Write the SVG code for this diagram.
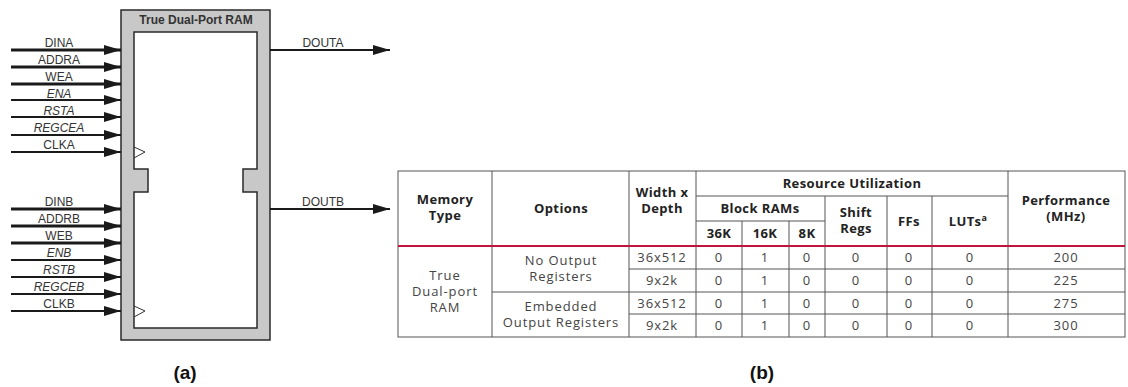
<svg xmlns="http://www.w3.org/2000/svg" width="1128" height="387" viewBox="0 0 1128 387">
<defs>
<marker id="ah" viewBox="0 0 17 10" refX="17" refY="5" markerWidth="17" markerHeight="10" markerUnits="userSpaceOnUse" orient="auto"><path d="M0,0 L17,5 L0,10 Z" fill="#1a1a1a"/></marker>
<style>
.sig{font-family:"Liberation Sans",Arial,sans-serif;font-size:12px;fill:#333;text-anchor:middle}
.it{font-style:italic}
.ln{stroke:#1a1a1a;stroke-width:2;fill:none}
.bus{stroke:#1a1a1a;stroke-width:3;fill:none}
.th{font-family:"Open Sans",sans-serif;font-size:13px;font-weight:bold;letter-spacing:0.4px;fill:#222;text-anchor:middle}
.td{font-family:"Open Sans",sans-serif;font-size:13px;letter-spacing:0.9px;fill:#444;text-anchor:middle}
.grid{stroke:#555;stroke-width:1;fill:none}
.cap{font-family:"Liberation Sans",Arial,sans-serif;font-size:19px;font-weight:bold;fill:#111;text-anchor:middle}
</style>
</defs>
<rect width="1128" height="387" fill="#fff"/>
<g id="ram">
<rect x="121" y="10" width="149" height="330" fill="#c8c8c8" stroke="#2a2a2a" stroke-width="1.5"/>
<path d="M134,32 H257 V169 H243 V192 H257 V328 H134 V192 H148 V169 H134 Z" fill="#fff" stroke="#2a2a2a" stroke-width="1.5"/>
<text x="196" y="24" style="font-family:'Liberation Sans',Arial,sans-serif;font-size:12px;font-weight:bold;fill:#333;text-anchor:middle">True Dual-Port RAM</text>
<path d="M134,147 L145,152 L134,158" fill="none" stroke="#333" stroke-width="1"/>
<path d="M134,306 L145,311 L134,317" fill="none" stroke="#333" stroke-width="1"/>
</g>
<g id="connectors">
<line class="bus" x1="11" y1="50" x2="121" y2="50" marker-end="url(#ah)"/>
<line class="bus" x1="11" y1="67" x2="121" y2="67" marker-end="url(#ah)"/>
<line class="bus" x1="11" y1="84" x2="121" y2="84" marker-end="url(#ah)"/>
<line class="ln" x1="11" y1="100" x2="121" y2="100" marker-end="url(#ah)"/>
<line class="ln" x1="11" y1="117" x2="121" y2="117" marker-end="url(#ah)"/>
<line class="ln" x1="11" y1="135" x2="121" y2="135" marker-end="url(#ah)"/>
<line class="ln" x1="11" y1="152" x2="121" y2="152" marker-end="url(#ah)"/>
<line class="bus" x1="11" y1="209" x2="121" y2="209" marker-end="url(#ah)"/>
<line class="bus" x1="11" y1="226" x2="121" y2="226" marker-end="url(#ah)"/>
<line class="bus" x1="11" y1="243" x2="121" y2="243" marker-end="url(#ah)"/>
<line class="ln" x1="11" y1="260" x2="121" y2="260" marker-end="url(#ah)"/>
<line class="ln" x1="11" y1="277" x2="121" y2="277" marker-end="url(#ah)"/>
<line class="ln" x1="11" y1="294" x2="121" y2="294" marker-end="url(#ah)"/>
<line class="ln" x1="11" y1="311" x2="121" y2="311" marker-end="url(#ah)"/>
<line class="ln" x1="270" y1="50" x2="390" y2="50" marker-end="url(#ah)"/>
<line class="ln" x1="270" y1="209" x2="390" y2="209" marker-end="url(#ah)"/>
</g>
<g id="labels">
<text class="sig" x="59" y="47">DINA</text>
<text class="sig" x="59" y="64">ADDRA</text>
<text class="sig" x="59" y="81">WEA</text>
<text class="sig it" x="59" y="98">ENA</text>
<text class="sig it" x="59" y="115">RSTA</text>
<text class="sig it" x="59" y="132">REGCEA</text>
<text class="sig" x="59" y="149">CLKA</text>
<text class="sig" x="59" y="206">DINB</text>
<text class="sig" x="59" y="223">ADDRB</text>
<text class="sig" x="59" y="240">WEB</text>
<text class="sig it" x="59" y="257">ENB</text>
<text class="sig it" x="59" y="274">RSTB</text>
<text class="sig it" x="59" y="291">REGCEB</text>
<text class="sig" x="59" y="308">CLKB</text>
<text class="sig" x="323" y="47">DOUTA</text>
<text class="sig" x="323" y="206">DOUTB</text>
</g>
<g id="table">
<rect class="grid" x="398" y="171" width="727" height="166"/>
<line class="grid" x1="492" y1="171" x2="492" y2="337"/>
<line class="grid" x1="629" y1="171" x2="629" y2="337"/>
<line class="grid" x1="696" y1="171" x2="696" y2="337"/>
<line class="grid" x1="1008" y1="171" x2="1008" y2="337"/>
<line class="grid" x1="696" y1="196" x2="1008" y2="196"/>
<line class="grid" x1="696" y1="221" x2="825" y2="221"/>
<line class="grid" x1="742" y1="221" x2="742" y2="337"/>
<line class="grid" x1="789" y1="221" x2="789" y2="337"/>
<line class="grid" x1="825" y1="196" x2="825" y2="337"/>
<line class="grid" x1="887" y1="196" x2="887" y2="337"/>
<line class="grid" x1="932" y1="196" x2="932" y2="337"/>
<line class="grid" x1="629" y1="269" x2="1125" y2="269"/>
<line class="grid" x1="492" y1="292" x2="1125" y2="292"/>
<line class="grid" x1="629" y1="314" x2="1125" y2="314"/>
<line x1="398" y1="246" x2="1125" y2="246" stroke="#c0143c" stroke-width="2"/>
<text class="th" x="445" y="204">Memory</text>
<text class="th" x="445" y="220">Type</text>
<text class="th" x="561" y="213">Options</text>
<text class="th" x="662" y="197">Width x</text>
<text class="th" x="662" y="213">Depth</text>
<text class="th" x="852" y="188">Resource Utilization</text>
<text class="th" x="760" y="213">Block RAMs</text>
<text class="th" x="719" y="238">36K</text>
<text class="th" x="765" y="238">16K</text>
<text class="th" x="807" y="238">8K</text>
<text class="th" x="856" y="217">Shift</text>
<text class="th" x="856" y="233">Regs</text>
<text class="th" x="909" y="226">FFs</text>
<text class="th" x="968" y="226">LUTs<tspan font-size="9" dy="-5">a</tspan></text>
<text class="th" x="1066" y="205">Performance</text>
<text class="th" x="1066" y="221">(MHz)</text>
<text class="td" x="445" y="280">True</text>
<text class="td" x="445" y="296">Dual-port</text>
<text class="td" x="445" y="312">RAM</text>
<text class="td" x="561" y="265">No Output</text>
<text class="td" x="561" y="281">Registers</text>
<text class="td" x="561" y="311">Embedded</text>
<text class="td" x="561" y="327">Output Registers</text>
<g id="rows">
<text class="td" x="662" y="262">36x512</text><text class="td" x="719" y="262">0</text><text class="td" x="765" y="262">1</text><text class="td" x="807" y="262">0</text><text class="td" x="856" y="262">0</text><text class="td" x="909" y="262">0</text><text class="td" x="970" y="262">0</text><text class="td" x="1066" y="262">200</text>
<text class="td" x="662" y="285">9x2k</text><text class="td" x="719" y="285">0</text><text class="td" x="765" y="285">1</text><text class="td" x="807" y="285">0</text><text class="td" x="856" y="285">0</text><text class="td" x="909" y="285">0</text><text class="td" x="970" y="285">0</text><text class="td" x="1066" y="285">225</text>
<text class="td" x="662" y="308">36x512</text><text class="td" x="719" y="308">0</text><text class="td" x="765" y="308">1</text><text class="td" x="807" y="308">0</text><text class="td" x="856" y="308">0</text><text class="td" x="909" y="308">0</text><text class="td" x="970" y="308">0</text><text class="td" x="1066" y="308">275</text>
<text class="td" x="662" y="330">9x2k</text><text class="td" x="719" y="330">0</text><text class="td" x="765" y="330">1</text><text class="td" x="807" y="330">0</text><text class="td" x="856" y="330">0</text><text class="td" x="909" y="330">0</text><text class="td" x="970" y="330">0</text><text class="td" x="1066" y="330">300</text>
</g>
</g>
<text class="cap" x="185" y="379">(a)</text>
<text class="cap" x="762" y="379">(b)</text>
</svg>
